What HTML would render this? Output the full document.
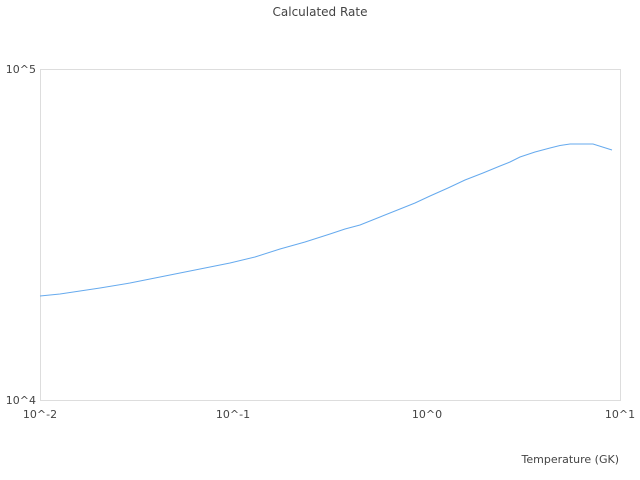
<!DOCTYPE html>
<html><head><style>body{margin:0;background:#fff}svg{display:block}</style></head><body>
<svg width="640" height="480" xmlns="http://www.w3.org/2000/svg" font-family="DejaVu Sans, Liberation Sans, sans-serif" font-size="11" fill="#444">
<text x="320" y="16" text-anchor="middle" font-size="12">Calculated Rate</text>
<rect x="40.5" y="69.5" width="580" height="331" fill="none" stroke="#ddd"/>
<text x="36" y="73" text-anchor="end">10^5</text>
<text x="36" y="404" text-anchor="end">10^4</text>
<text x="40" y="418" text-anchor="middle">10^-2</text>
<text x="233" y="418" text-anchor="middle">10^-1</text>
<text x="427" y="418" text-anchor="middle">10^0</text>
<text x="620" y="418" text-anchor="middle">10^1</text>
<text x="619" y="463" text-anchor="end">Temperature (GK)</text>
<polyline fill="none" stroke="#66aaee" stroke-width="1" points="40,296 60,294 80,291 100,288 130,283 155,278 180,273 205,268 230,263 255,257 280,249 305,242 330,234 345,229 360,225 380,217 400,209 415,203 430,196 448,188 465,180 483,173 500,166 510,162 520,157 535,152 550,148 560,145.5 570,144 593,144 612,150"/>
</svg>
</body></html>
